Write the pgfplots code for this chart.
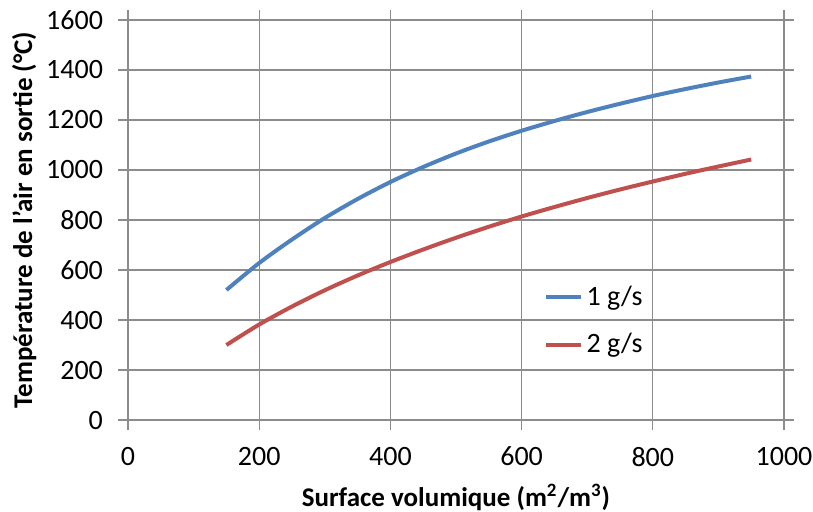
\documentclass[border=0pt]{standalone}
\usepackage{pgfplots}
\pgfplotsset{compat=1.18}
\usepackage{fontspec}
\setmainfont{Carlito}
\definecolor{gridgray}{HTML}{8C8C8C}
\definecolor{xlblue}{HTML}{4F81BD}
\definecolor{xlred}{HTML}{C0504D}
\begin{document}
\begin{tikzpicture}
\begin{axis}[
    scale only axis,
    width=328pt, height=200pt,
    xmin=0, xmax=1000, ymin=0, ymax=1600,
    xtick={0,200,...,1000},
    ytick={0,200,...,1600},
    grid=major,
    grid style={gridgray, line width=0.6pt},
    axis line style={gridgray, line width=0.6pt},
    tick style={gridgray, line width=0.6pt},
    tick align=outside,
    major tick length=5pt,
    /pgf/number format/assume math mode=true,
    /pgf/number format/1000 sep={},
    tick label style={font=\fontsize{14}{16}\selectfont},
    xticklabel style={yshift=-5pt},
    yticklabel style={xshift=-4pt},
    xlabel={\textbf{Surface volumique (m\textsuperscript{2}/m\textsuperscript{3})}},
    ylabel={\textbf{Température de l{\char39}air en sortie (°C)}},
    label style={font=\fontsize{13.5}{16}\selectfont},
    xlabel style={yshift=-2pt},
    ylabel style={yshift=-2pt},
    legend style={at={(0.625,0.248)}, anchor=west, draw=none, fill=none,
        font=\fontsize{14}{16}\selectfont, row sep=8.5pt,
        /tikz/every even column/.append style={column sep=1pt}},
    legend cell align=left,
    legend image post style={line width=2pt},
]
\addplot[xlblue, line width=2pt, smooth] coordinates {
    (150,520) (200,628) (250,722) (300,808) (350,884) (400,952) (450,1012)
    (500,1066) (550,1114) (600,1157) (650,1196) (700,1232) (750,1265)
    (800,1296) (850,1324) (900,1350) (950,1374)};
\addlegendentry{1 g/s}
\addplot[xlred, line width=2pt, smooth] coordinates {
    (150,300) (200,382) (250,454) (300,519) (350,578) (400,632) (450,682)
    (500,729) (550,773) (600,814) (650,852) (700,888) (750,922)
    (800,954) (850,985) (900,1014) (950,1042)};
\addlegendentry{2 g/s}
\coordinate (bbA) at (rel axis cs:0,0);
\coordinate (bbB) at (rel axis cs:1,1);
\end{axis}
\pgfresetboundingbox
\path ([shift={(-64pt,-45.5pt)}]bbA) rectangle ([shift={(14.5pt,10pt)}]bbB);
\end{tikzpicture}
\end{document}
